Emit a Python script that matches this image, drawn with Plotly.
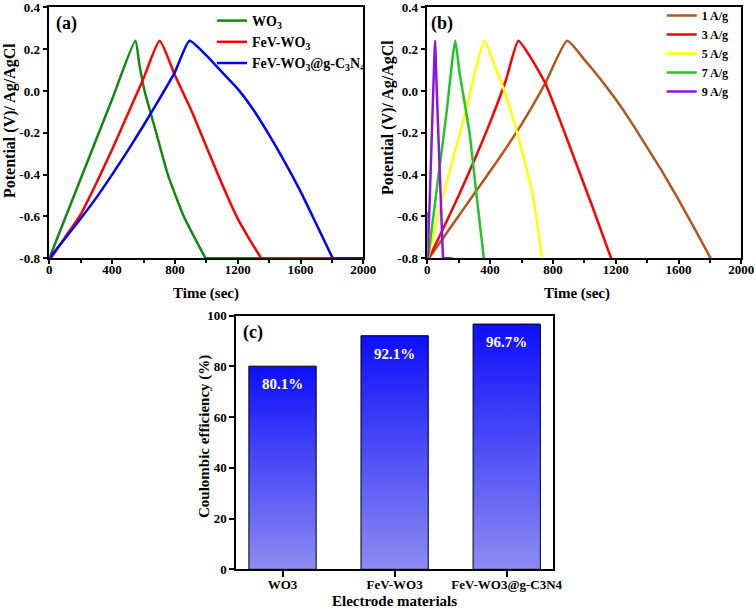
import plotly.graph_objects as go

# ---------------- data ----------------
# panel (a): GCD curves of the three electrodes (time in s, potential in V)
wo3_t = [0, 100, 200, 300, 400, 548, 575, 607, 681, 755, 857, 995]
wo3_v = [-0.8, -0.61, -0.42, -0.23, -0.04, 0.24, 0.12, 0.0, -0.2, -0.4, -0.6, -0.8]
wo3_tail_t = [995, 2000]
wo3_tail_v = [-0.8, -0.8]

fev_t = [10, 100, 200, 300, 400, 500, 600, 703, 800, 900, 1000, 1100, 1200, 1280, 1350]
fev_v = [-0.8, -0.7, -0.59, -0.44, -0.28, -0.11, 0.06, 0.24, 0.075, -0.085, -0.265, -0.445, -0.61, -0.715, -0.8]
fev_tail_t = [1350, 2000]
fev_tail_v = [-0.8, -0.8]

cn_t = [0, 100, 200, 300, 400, 500, 600, 700, 800, 893, 1000, 1100, 1200, 1300, 1400, 1500, 1600, 1700, 1805]
cn_v = [-0.8, -0.705, -0.61, -0.51, -0.4, -0.285, -0.165, -0.04, 0.09, 0.24, 0.17, 0.09, 0.01, -0.09, -0.21, -0.34, -0.48, -0.635, -0.8]
cn_tail_t = [1805, 2000]
cn_tail_v = [-0.8, -0.8]

# panel (b): GCD of FeV-WO3@g-C3N4 at different current densities
a1_t = [10, 150, 300, 450, 600, 750, 891, 1000, 1100, 1200, 1300, 1400, 1500, 1600, 1700, 1805]
a1_v = [-0.8, -0.65, -0.49, -0.33, -0.16, 0.035, 0.24, 0.15, 0.06, -0.04, -0.15, -0.27, -0.39, -0.52, -0.655, -0.8]

a3_t = [10, 100, 200, 300, 400, 500, 580, 650, 750, 850, 950, 1050, 1171]
a3_v = [-0.8, -0.66, -0.5, -0.33, -0.15, 0.05, 0.24, 0.17, 0.04, -0.15, -0.35, -0.55, -0.8]

a5_t = [5, 100, 227, 364, 420, 481, 576, 671, 700, 730]
a5_v = [-0.8, -0.5, -0.15, 0.24, 0.14, 0.02, -0.21, -0.495, -0.63, -0.8]

a7_t = [5, 60, 120, 178, 205, 269, 311, 360]
a7_v = [-0.8, -0.47, -0.12, 0.24, 0.09, -0.2, -0.48, -0.8]

a9_t = [0, 2, 25, 50, 55, 70, 85, 100]
a9_v = [-0.58, -0.8, -0.3, 0.24, 0.12, -0.2, -0.5, -0.8]
a9_tail_t = [100, 160]
a9_tail_v = [-0.8, -0.8]

# panel (c): coulombic efficiency
ce_categories = ["WO3", "FeV-WO3", "FeV-WO3@g-C3N4"]
ce_values = [80.1, 92.1, 96.7]
ce_labels = ["80.1%", "92.1%", "96.7%"]

# tick labels
time_ticks = [0, 400, 800, 1200, 1600, 2000]
time_ticktext = ["0", "400", "800", "1200", "1600", "2000"]
pot_ticks = [-0.8, -0.6, -0.4, -0.2, 0.0, 0.2, 0.4]
pot_ticktext = ["-0.8", "-0.6", "-0.4", "-0.2", "0.0", "0.2", "0.4"]
ce_ticks = [0, 20, 40, 60, 80, 100]
ce_ticktext = ["0", "20", "40", "60", "80", "100"]

# ---------------- layout helpers ----------------
W, H = 756, 609
FONT = "Liberation Serif"


def dx(a, b):
    return [a / W, b / W]


def dy(top, bottom):
    return [1 - bottom / H, 1 - top / H]


def px(x):
    return x / W


def py(y):
    return 1 - y / H


fig = go.Figure()

LW = 2.5
SPL = dict(shape="spline", smoothing=0.5)
series_a = [
    (wo3_t, wo3_v, wo3_tail_t, wo3_tail_v, "WO<sub>3</sub>", "#118811"),
    (fev_t, fev_v, fev_tail_t, fev_tail_v, "FeV-WO<sub>3</sub>", "#ff0000"),
    (cn_t, cn_v, cn_tail_t, cn_tail_v, "FeV-WO<sub>3</sub>@g-C<sub>3</sub>N<sub>4</sub>", "#0000ff"),
]
for t, v, tt, tv, name, col in series_a:
    fig.add_trace(go.Scatter(x=tt, y=tv, mode="lines", showlegend=False, hoverinfo="skip",
                             line=dict(color=col, width=LW), xaxis="x", yaxis="y"))
for t, v, tt, tv, name, col in series_a:
    fig.add_trace(go.Scatter(x=t, y=v, mode="lines", name=name,
                             line=dict(color=col, width=LW, **SPL),
                             xaxis="x", yaxis="y", legend="legend"))

series_b = [
    (a1_t, a1_v, "1 A/g", "#b4561e"),
    (a3_t, a3_v, "3 A/g", "#ff0000"),
    (a5_t, a5_v, "5 A/g", "#ffff00"),
    (a7_t, a7_v, "7 A/g", "#22c42a"),
    (a9_t, a9_v, "9 A/g", "#8a14e6"),
]
for t, v, name, col in series_b:
    fig.add_trace(go.Scatter(x=t, y=v, mode="lines", name=name,
                             line=dict(color=col, width=LW, **SPL),
                             xaxis="x2", yaxis="y2", legend="legend2"))
fig.add_trace(go.Scatter(x=a9_tail_t, y=a9_tail_v, mode="lines", showlegend=False,
                         hoverinfo="skip", line=dict(color="#8a14e6", width=LW),
                         xaxis="x2", yaxis="y2"))

BAR_W = 0.6
for i, val in enumerate(ce_values):
    x0, x1 = i - BAR_W / 2, i + BAR_W / 2
    fig.add_trace(go.Scatter(
        x=[x0, x1, x1, x0, x0], y=[0, 0, val, val, 0],
        mode="lines", fill="toself",
        line=dict(color="black", width=1),
        fillgradient=dict(type="vertical",
                          colorscale=[[0, "rgb(140,140,242)"], [1, "rgb(14,14,252)"]],
                          start=0, stop=val),
        showlegend=False, hoverinfo="skip",
        xaxis="x3", yaxis="y3"))

axis_common = dict(showline=True, linecolor="black", linewidth=1.5, mirror=True,
                   ticks="outside", ticklen=5, tickwidth=1.5, tickcolor="black",
                   showgrid=False, zeroline=False, ticklabeloverflow="allow",
                   tickfont=dict(family=FONT, size=13, color="black", weight="bold"))

time_axis = dict(axis_common, range=[0, 2000], tickmode="array", tickvals=time_ticks,
                 ticktext=time_ticktext, layer="below traces", ticklen=4,
                 ticklabelstandoff=-6,
                 minor=dict(dtick=200, tick0=0, ticks="outside", ticklen=3,
                            tickwidth=1.5, tickcolor="black"))
pot_axis = dict(axis_common, range=[-0.8, 0.4], tickmode="array", tickvals=pot_ticks,
                ticktext=pot_ticktext)

fig.update_layout(
    width=W, height=H,
    margin=dict(l=0, r=0, t=0, b=0, autoexpand=False),
    paper_bgcolor="white", plot_bgcolor="white",
    font=dict(family=FONT, color="black", weight="bold"),
    xaxis=dict(time_axis, domain=dx(49.3, 363.3), anchor="y"),
    yaxis=dict(pot_axis, domain=dy(7.3, 258.3), anchor="x"),
    xaxis2=dict(time_axis, domain=dx(427.3, 741.3), anchor="y2"),
    yaxis2=dict(pot_axis, domain=dy(7.3, 258.3), anchor="x2"),
    xaxis3=dict(axis_common, domain=dx(236, 552.7), anchor="y3", range=[-0.415, 2.41],
                tickmode="array", tickvals=list(range(len(ce_categories))),
                ticktext=ce_categories, ticklen=6, ticklabelstandoff=-4),
    yaxis3=dict(axis_common, domain=dy(315.7, 569.3), anchor="x3", range=[0, 100],
                tickmode="array", tickvals=ce_ticks, ticktext=ce_ticktext),
    legend=dict(x=px(212), y=py(5), xanchor="left", yanchor="top",
                bgcolor="rgba(0,0,0,0)", font=dict(family=FONT, size=14, weight="bold"),
                itemwidth=30),
    legend2=dict(x=px(661.7), y=py(1), xanchor="left", yanchor="top",
                 bgcolor="rgba(0,0,0,0)", font=dict(family=FONT, size=12, weight="bold"),
                 itemwidth=30),
)

annots = []


def add_text(text, x, y, size, angle=0, color="black"):
    annots.append(dict(text=text, x=px(x), y=py(y), xref="paper", yref="paper",
                       xanchor="center", yanchor="middle", showarrow=False,
                       textangle=angle,
                       font=dict(family=FONT, size=size, color=color, weight="bold")))


add_text("(a)", 66, 24, 18)
add_text("(b)", 442, 24, 18)
add_text("(c)", 253, 332, 18)
add_text("Time (sec)", 206, 293, 15)
add_text("Time (sec)", 577, 293, 15)
add_text("Potential (V)/ Ag/AgCl", 10, 121, 16, angle=-90)
add_text("Potential (V)/ Ag/AgCl", 388, 118, 16, angle=-90)
add_text("Electrode materials", 394, 601, 15)
add_text("Coulombic efficiency (%)", 204, 437, 15, angle=-90)

fig.update_layout(annotations=annots)

for i, (val, lab) in enumerate(zip(ce_values, ce_labels)):
    fig.add_annotation(x=i, y=val, xref="x3", yref="y3", text=lab, showarrow=False,
                       yanchor="middle", yshift=-18,
                       font=dict(family=FONT, size=15, color="white", weight="bold"))

fig.write_html("out.html",
               config={"displayModeBar": False},
               post_script="document.body.style.margin='0';"
                           "document.body.style.overflow='hidden';")
